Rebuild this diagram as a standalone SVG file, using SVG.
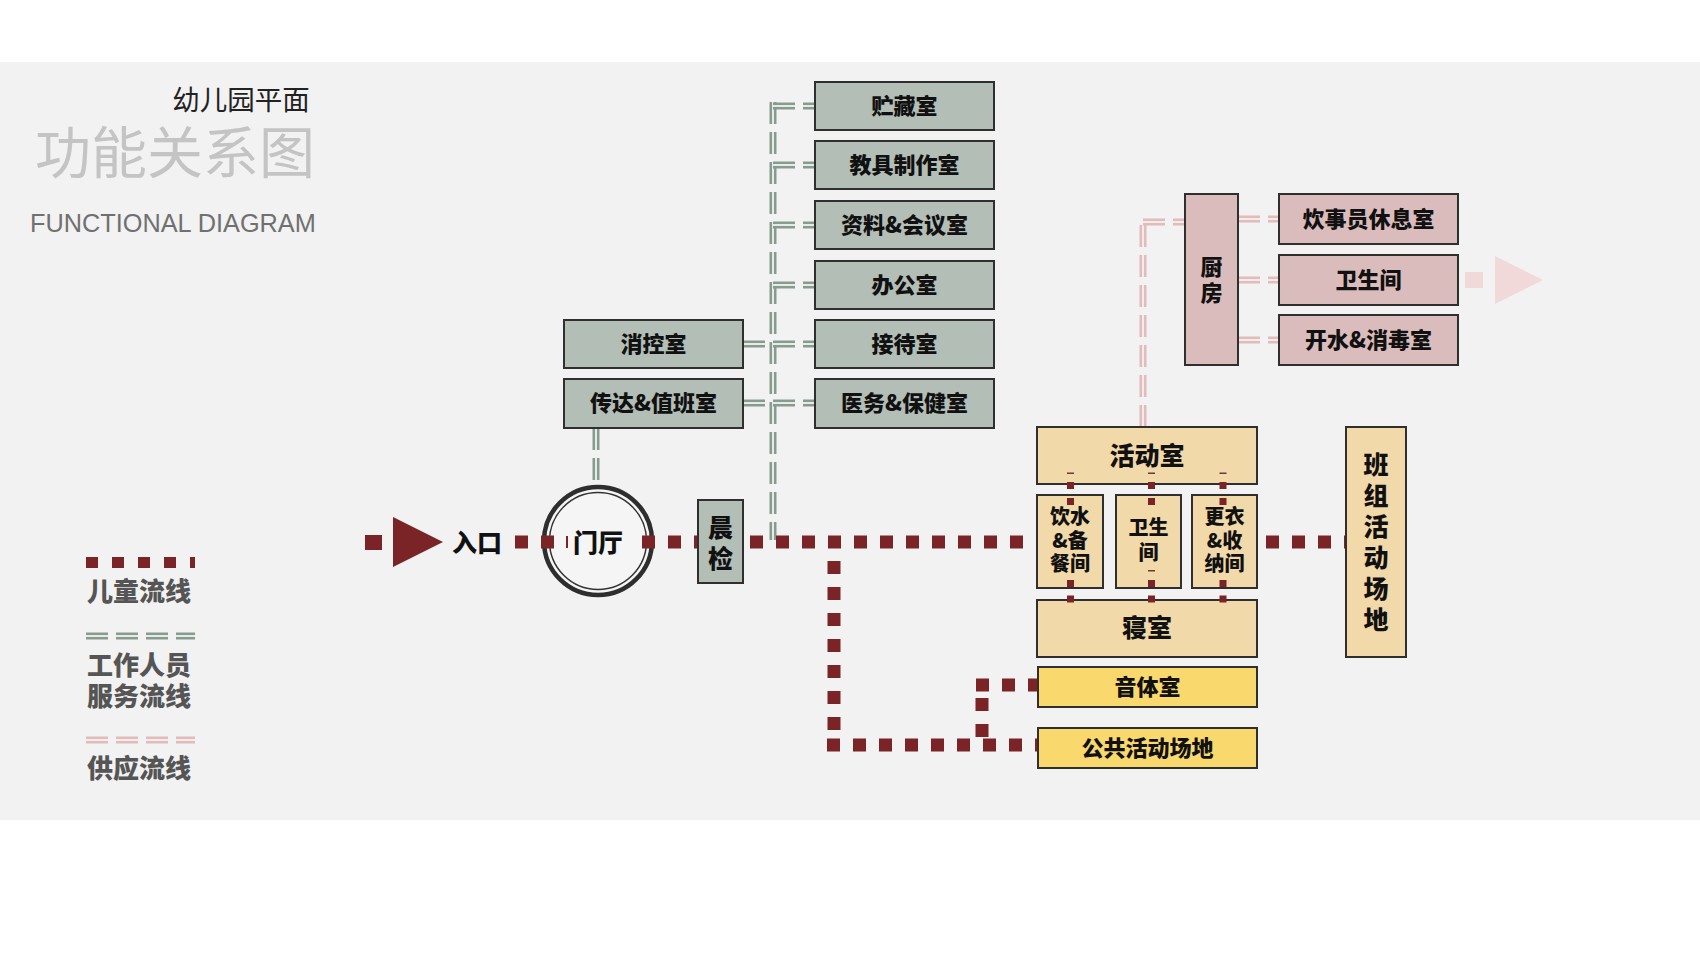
<svg xmlns="http://www.w3.org/2000/svg" width="1700" height="956" viewBox="0 0 1700 956">
<style>
.cjk{font-family:'Noto Sans CJK SC','Noto Sans',sans-serif;}
.t{font-family:'Noto Sans CJK SC',sans-serif;font-weight:900;fill:#111;text-anchor:middle;}
.f22{font-size:22px;}
.f25{font-size:25px;}
.f20{font-size:20px;}
.bg{fill:#b3beb7;stroke:#2f2f2f;stroke-width:2;}
.bp{fill:#dbbcbc;stroke:#2f2f2f;stroke-width:2;}
.bt{fill:#f2d9a9;stroke:#2f2f2f;stroke-width:2;}
.by{fill:#f9d86e;stroke:#2f2f2f;stroke-width:2;}
.r{fill:none;stroke:#7b2427;stroke-width:13;stroke-dasharray:13 13;}
.g{fill:none;stroke:#879b90;stroke-width:7;stroke-dasharray:22 8;}
.gi{fill:none;stroke:#e6ebe8;stroke-width:2;stroke-dasharray:22 8;}
.p{fill:none;stroke:#e0bcbc;stroke-width:7;stroke-dasharray:22 8;}
.pi{fill:none;stroke:#f6eaea;stroke-width:2;stroke-dasharray:22 8;}
.dot{fill:#7b2427;}
.mk{fill:#6b3a3a;}
.lg{font-family:'Noto Sans CJK SC',sans-serif;font-weight:900;font-size:26px;fill:#555;}
</style>
<rect x="0" y="0" width="1700" height="956" fill="#ffffff"/>
<rect x="0" y="62" width="1700" height="758" fill="#f2f2f2"/>

<g id="title">
<text x="241" y="110" class="cjk" font-size="27.5" font-weight="400" fill="#222" text-anchor="middle">幼儿园平面</text>
<text x="175" y="173" class="cjk" font-size="56" font-weight="400" fill="#c4c4c4" text-anchor="middle">功能关系图</text>
<text x="30" y="232" font-family="'Liberation Sans',Arial,sans-serif" font-size="25.3" fill="#707070">FUNCTIONAL DIAGRAM</text>
</g>

<g id="legend">
<path d="M86 562.5 H195" fill="none" stroke="#7b2427" stroke-width="11" stroke-dasharray="12 14"/>
<text x="87" y="601" class="lg">儿童流线</text>
<path d="M86 636 H195" class="g"/>
<path d="M86 636 H195" class="gi"/>
<text x="87" y="675" class="lg">工作人员</text>
<text x="87" y="706" class="lg">服务流线</text>
<path d="M86 740 H195" class="p"/>
<path d="M86 740 H195" class="pi"/>
<text x="87" y="778" class="lg">供应流线</text>
</g>

<g id="entrance">
<rect x="365" y="535" width="17" height="15" fill="#7b2427"/>
<polygon points="393,517 443,542 393,567" fill="#7b2427"/>
<text x="477" y="552" class="t f25">入口</text>
</g>

<g id="lobby">
<circle cx="598" cy="541" r="54" fill="#f5f5f5" stroke="#2e2e2e" stroke-width="4.5"/>
<circle cx="598" cy="541" r="48.5" fill="none" stroke="#333" stroke-width="1.5"/>
<text x="598" y="552" class="t f25" font-weight="700">门厅</text>
</g>

<g id="connectors">
<path d="M596 428 V485" class="g"/><path d="M596 428 V485" class="gi"/>
<path d="M773 102 V540" class="g"/><path d="M773 102 V540" class="gi"/>
<path d="M773 106 H815" class="g"/><path d="M773 106 H815" class="gi"/>
<path d="M773 165 H815" class="g"/><path d="M773 165 H815" class="gi"/>
<path d="M773 225 H815" class="g"/><path d="M773 225 H815" class="gi"/>
<path d="M773 285 H815" class="g"/><path d="M773 285 H815" class="gi"/>
<path d="M743 344 H815" class="g"/><path d="M743 344 H815" class="gi"/>
<path d="M743 403 H815" class="g"/><path d="M743 403 H815" class="gi"/>
<path d="M1143 427 V222" class="p"/><path d="M1143 427 V222" class="pi"/>
<path d="M1143 222 H1185" class="p"/><path d="M1143 222 H1185" class="pi"/>
<path d="M1238 219 H1279" class="p"/><path d="M1238 219 H1279" class="pi"/>
<path d="M1238 280 H1279" class="p"/><path d="M1238 280 H1279" class="pi"/>
<path d="M1238 340 H1279" class="p"/><path d="M1238 340 H1279" class="pi"/>
<rect x="1465" y="272" width="18" height="16" fill="#f2d9d9"/>
<polygon points="1495,256 1543,280 1495,304" fill="#f2d9d9"/>
<path d="M515 542 H556" class="r"/>
<rect x="566" y="536" width="2" height="12" fill="#7b2427"/>
<path d="M642 542 H707" class="r"/>
<path d="M750 542 H1037" class="r"/>
<path d="M834 561 V740" class="r"/>
<path d="M827 745 H1037" class="r"/>
<path d="M976 685 H1038" class="r"/>
<path d="M982 698 V738" class="r"/>
<path d="M1266 542 H1346" class="r"/>
</g>

<g id="n-chenjian"><rect x="698" y="500" width="45" height="83" class="bg"/>
<text x="720.5" y="537" class="t f25">晨</text><text x="720.5" y="568" class="t f25">检</text></g>

<g id="n-xiaokong"><rect x="564" y="320" width="179" height="48" class="bg"/><text x="653.5" y="352" class="t f22">消控室</text></g>
<g id="n-chuanda"><rect x="564" y="379" width="179" height="49" class="bg"/><text x="653.5" y="411" class="t f22">传达&amp;值班室</text></g>
<g id="n-zhucang"><rect x="815" y="82" width="179" height="48" class="bg"/><text x="904.5" y="114" class="t f22">贮藏室</text></g>
<g id="n-jiaoju"><rect x="815" y="141" width="179" height="48" class="bg"/><text x="904.5" y="173" class="t f22">教具制作室</text></g>
<g id="n-ziliao"><rect x="815" y="201" width="179" height="48" class="bg"/><text x="904.5" y="233" class="t f22">资料&amp;会议室</text></g>
<g id="n-bangong"><rect x="815" y="261" width="179" height="48" class="bg"/><text x="904.5" y="293" class="t f22">办公室</text></g>
<g id="n-jiedai"><rect x="815" y="320" width="179" height="48" class="bg"/><text x="904.5" y="352" class="t f22">接待室</text></g>
<g id="n-yiwu"><rect x="815" y="379" width="179" height="49" class="bg"/><text x="904.5" y="411" class="t f22">医务&amp;保健室</text></g>

<g id="n-chufang"><rect x="1185" y="194" width="53" height="171" class="bp"/>
<text x="1211.5" y="275" class="t f22">厨</text><text x="1211.5" y="301" class="t f22">房</text></g>
<g id="n-chuishi"><rect x="1279" y="194" width="179" height="50" class="bp"/><text x="1368.5" y="227" class="t f22">炊事员休息室</text></g>
<g id="n-weisheng-k"><rect x="1279" y="255" width="179" height="50" class="bp"/><text x="1368.5" y="288" class="t f22">卫生间</text></g>
<g id="n-kaishui"><rect x="1279" y="315" width="179" height="50" class="bp"/><text x="1368.5" y="348" class="t f22">开水&amp;消毒室</text></g>

<g id="n-huodong"><rect x="1037" y="427" width="220" height="57" class="bt"/><text x="1147" y="465" class="t f25">活动室</text></g>
<g id="n-yinshui"><rect x="1037" y="495" width="66" height="93" class="bt"/>
<text x="1070" y="524" class="t f20">饮水</text><text x="1070" y="548" class="t f20">&amp;备</text><text x="1070" y="571" class="t f20">餐间</text></g>
<g id="n-weisheng"><rect x="1116" y="495" width="65" height="93" class="bt"/>
<text x="1148.5" y="535" class="t f20">卫生</text><text x="1148.5" y="560" class="t f20">间</text></g>
<g id="n-gengyi"><rect x="1192" y="495" width="65" height="93" class="bt"/>
<text x="1224.5" y="524" class="t f20">更衣</text><text x="1224.5" y="548" class="t f20">&amp;收</text><text x="1224.5" y="571" class="t f20">纳间</text></g>
<g id="n-qinshi"><rect x="1037" y="600" width="220" height="57" class="bt"/><text x="1147" y="637" class="t f25">寝室</text></g>
<g id="n-banzu"><rect x="1346" y="427" width="60" height="230" class="bt"/>
<text x="1376" y="474" class="t f25">班</text><text x="1376" y="505" class="t f25">组</text><text x="1376" y="536" class="t f25">活</text>
<text x="1376" y="567" class="t f25">动</text><text x="1376" y="598" class="t f25">场</text><text x="1376" y="629" class="t f25">地</text></g>
<g id="n-yinti"><rect x="1038" y="667" width="219" height="40" class="by"/><text x="1147.5" y="695" class="t f22">音体室</text></g>
<g id="n-gonggong"><rect x="1038" y="728" width="219" height="40" class="by"/><text x="1147.5" y="756" class="t f22">公共活动场地</text></g>

<g id="connectors-inner">
<rect x="1067" y="482" width="7" height="7" class="dot"/><rect x="1067" y="498" width="7" height="7" class="dot"/>
<rect x="1067" y="580" width="7" height="7" class="dot"/><rect x="1067" y="595.5" width="7" height="7" class="dot"/>
<rect x="1148" y="482" width="7" height="7" class="dot"/><rect x="1148" y="498" width="7" height="7" class="dot"/>
<rect x="1148" y="580" width="7" height="7" class="dot"/><rect x="1148" y="595.5" width="7" height="7" class="dot"/>
<rect x="1219.5" y="482" width="7" height="7" class="dot"/><rect x="1219.5" y="498" width="7" height="7" class="dot"/>
<rect x="1219.5" y="580" width="7" height="7" class="dot"/><rect x="1219.5" y="595.5" width="7" height="7" class="dot"/>
<rect x="1067" y="472.5" width="7" height="1.5" class="mk"/>
<rect x="1148" y="472.5" width="7" height="1.5" class="mk"/>
<rect x="1219.5" y="472.5" width="7" height="1.5" class="mk"/>
<rect x="1148" y="570" width="7" height="1.5" class="mk"/>
</g>
</svg>
